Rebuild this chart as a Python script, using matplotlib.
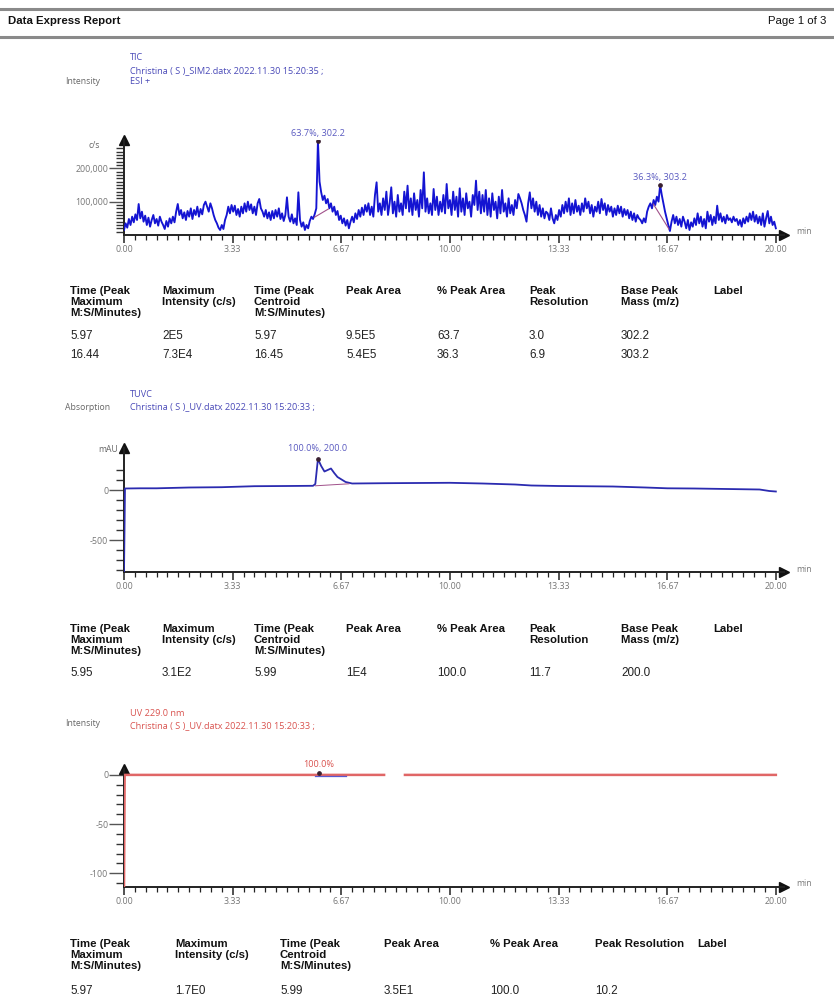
import numpy as np
import matplotlib
matplotlib.use('Agg')
import matplotlib.pyplot as plt
from matplotlib.lines import Line2D
from matplotlib.ticker import FixedLocator

W, H = 834, 998

# ---- TIC (SIM2, ESI+), k c/s every 0.05 min, 0.00 .. 20.00 ----
tic_step = 0.05
tic_kcps = [
    15, 35, 22, 48, 30, 55, 38, 62, 45, 93, 50, 70, 40, 58, 30, 52, 25, 45, 60, 35,
    48, 28, 55, 40, 30, 18, 42, 25, 50, 35, 55, 38, 70, 93, 60, 75, 50, 68, 45, 72,
    55, 80, 48, 75, 60, 85, 55, 78, 62, 90, 100, 85, 70, 95, 80, 60, 45, 35, 22, 15,
    30, 18, 45, 60, 85, 65, 90, 70, 88, 60, 78, 55, 85, 65, 95, 70, 100, 75, 92, 65,
    85, 60, 95, 108, 80, 70, 55, 75, 50, 68, 45, 72, 50, 75, 55, 80, 48, 65, 42, 60,
    113, 55, 40, 62, 35, 50, 30, 128, 45, 25, 38, 15, 30, 20, 42, 55, 48, 62, 80, 283,
    160, 128, 105, 118, 95, 108, 80, 95, 70, 85, 60, 72, 45, 58, 35, 50, 28, 45, 20, 40,
    55, 38, 65, 48, 75, 55, 82, 60, 90, 70, 95, 60, 85, 55, 120, 158, 70, 95, 60, 110,
    75, 130, 60, 95, 143, 65, 100, 55, 120, 70, 95, 60, 130, 80, 148, 70, 110, 60, 125, 75,
    105, 55, 135, 80, 188, 70, 110, 65, 95, 60, 138, 75, 115, 60, 100, 70, 120, 65, 153, 80,
    105, 60, 130, 75, 115, 55, 140, 70, 110, 60, 125, 80, 100, 55, 120, 90, 163, 75, 130, 65,
    120, 70, 135, 60, 110, 55, 125, 75, 100, 50, 115, 65, 135, 70, 95, 55, 110, 65, 90, 60,
    105, 80, 123, 110, 95, 75, 60, 40, 95, 128, 80, 110, 70, 100, 60, 90, 55, 80, 50, 70,
    65, 45, 80, 50, 35, 60, 45, 75, 55, 90, 65, 100, 70, 110, 60, 95, 65, 105, 70, 88,
    60, 95, 70, 110, 80, 100, 65, 90, 55, 85, 70, 100, 65, 108, 75, 95, 60, 90, 70, 85,
    55, 80, 60, 88, 65, 85, 55, 78, 60, 75, 50, 70, 45, 65, 40, 60, 50, 45, 35, 50,
    38, 70, 85, 95, 80, 105, 90, 115, 100, 150, 120, 95, 70, 50, 30, 12, 40, 60, 35, 55,
    30, 48, 25, 55, 40, 20, 45, 15, 38, 25, 50, 30, 65, 35, 55, 25, 48, 20, 70, 40,
    60, 30, 55, 35, 88, 45, 65, 40, 55, 35, 60, 45, 50, 38, 55, 42, 48, 30, 45, 25,
    50, 35, 55, 40, 65, 45, 70, 40, 60, 35, 55, 30, 65, 25, 50, 72, 35, 55, 30, 40,
    20,
]
tic_peak_t = [5.95, 16.45]
tic_peak_text = ['63.7%, 302.2', '36.3%, 303.2']
tic_base_t = [[5.84, 6.27], [16.24, 16.72]]
tic_base_k = [[53, 78], [93, 18]]

# ---- TUVC absorption, mAU ----
uv_t = [0.0, 0.03, 0.5, 1.0, 2.0, 3.0, 4.0, 5.0, 5.8, 5.87, 5.95, 6.05, 6.15, 6.25,
        6.35, 6.45, 6.55, 6.65, 6.8, 7.0, 8.0, 9.0, 10.0, 11.0, 12.0, 12.5, 13.33,
        14.0, 15.0, 16.0, 16.67, 17.5, 18.5, 19.5, 19.7, 19.8, 20.0]
uv_mau = [-830, 15, 17, 17, 25, 28, 38, 40, 42, 60, 310, 240, 185, 200, 215, 170,
          130, 110, 80, 65, 68, 70, 72, 65, 55, 45, 40, 38, 35, 25, 17, 15, 10, 5,
          -5, -10, -15]
uv_peak_t = 5.95
uv_peak_text = '100.0%, 200.0'
uv_base_t = [5.87, 6.9]
uv_base_mau = [42, 62]

# ---- UV 229.0 nm ----
uv229_t = [0.0, 0.02, 7.98, 8.3, 8.62, 20.0]
uv229_v = [-116, 0, 0, np.nan, 0, 0]
uv229_peak = (5.97, 1.7)
uv229_base_t = [5.85, 6.8]
uv229_base_v = [-0.8, -0.8]
uv229_peak_text = '100.0%'

# ---- peak tables ----
cols_ms = ['Time (Peak\nMaximum\nM:S/Minutes)', 'Maximum\nIntensity (c/s)',
           'Time (Peak\nCentroid\nM:S/Minutes)', 'Peak Area', '% Peak Area',
           'Peak\nResolution', 'Base Peak\nMass (m/z)', 'Label']
rows_tic = [['5.97', '2E5', '5.97', '9.5E5', '63.7', '3.0', '302.2'],
            ['16.44', '7.3E4', '16.45', '5.4E5', '36.3', '6.9', '303.2']]
rows_uv = [['5.95', '3.1E2', '5.99', '1E4', '100.0', '11.7', '200.0']]
cols_uv229 = ['Time (Peak\nMaximum\nM:S/Minutes)', 'Maximum\nIntensity (c/s)',
              'Time (Peak\nCentroid\nM:S/Minutes)', 'Peak Area', '% Peak Area',
              'Peak Resolution', 'Label']
rows_uv229 = [['5.97', '1.7E0', '5.99', '3.5E1', '100.0', '10.2']]

x_major = [0, 20 / 6, 40 / 6, 10, 80 / 6, 100 / 6, 20]
x_labels = ['0.00', '3.33', '6.67', '10.00', '13.33', '16.67', '20.00']

CH_FONT = ['Open Sans', 'DejaVu Sans']
TB_FONT = ['Liberation Sans', 'DejaVu Sans']
BLUE_TXT = '#4a4ab8'
RED_TXT = '#d9534f'
CH_SIZE = 6.6


def fx(x):
    return x / W


def fy(y):
    return 1 - y / H


def ftext(x, y, s, **kw):
    fig.text(fx(x), fy(y), s, **kw)


def add_panel(top, bottom, ylim, y_major, y_labels, y_minor):
    ax = fig.add_axes([fx(124), fy(bottom), (784 - 124) / W, (bottom - top) / H])
    ax.set_xlim(0, 20.25)
    ax.set_ylim(*ylim)
    ax.patch.set_alpha(0)
    for s in ['top', 'right']:
        ax.spines[s].set_visible(False)
    for s in ['left', 'bottom']:
        ax.spines[s].set_linewidth(1.4)
        ax.spines[s].set_color('#222222')
    ax.set_xticks(x_major)
    ax.set_xticklabels(x_labels, family=CH_FONT)
    ax.xaxis.set_minor_locator(FixedLocator([k / 3 for k in range(61) if k % 10]))
    ax.tick_params(axis='x', which='major', direction='out', length=6, width=1.1,
                   labelsize=6.4, labelcolor='#777777', pad=1.5, color='#222222')
    ax.tick_params(axis='x', which='minor', direction='out', length=3.5, width=0.9,
                   color='#222222')
    ax.set_yticks(y_major)
    ax.set_yticklabels(y_labels, family=CH_FONT)
    ax.yaxis.set_minor_locator(FixedLocator(y_minor))
    ax.tick_params(axis='y', which='major', direction='out', length=11, width=1.0,
                   labelsize=6.4, labelcolor='#777777', pad=0.3, color='#555555')
    ax.tick_params(axis='y', which='minor', direction='out', length=6, width=1.0,
                   color='#333333')
    ax.plot(0, 1, marker='^', color='#111111', ms=7, transform=ax.transAxes,
            clip_on=False)
    ax.plot(1, 0, marker='>', color='#111111', ms=7, transform=ax.transAxes,
            clip_on=False)
    return ax


def add_table(y_head, y_rows, xs, headers, rows):
    for x, h in zip(xs, headers):
        ftext(x, y_head, h, ha='left', va='top', fontsize=8.2, weight='bold',
              family=TB_FONT, linespacing=1.12, color='#111111')
    for y, row in zip(y_rows, rows):
        for x, v in zip(xs, row):
            ftext(x, y, v, ha='left', va='center', fontsize=8.4, family=TB_FONT,
                  color='#222222')


fig = plt.figure(figsize=(W / 100, H / 100), dpi=100)
fig.patch.set_facecolor('white')

# page header
for y in (9, 37):
    fig.add_artist(Line2D([0, 1], [fy(y), fy(y)], color='#8a8a8a', lw=2.2))
ftext(8, 21, 'Data Express Report', ha='left', va='center', fontsize=8.2,
      weight='bold', family=TB_FONT, color='#111111')
ftext(826, 21, 'Page 1 of 3', ha='right', va='center', fontsize=8.2, family=TB_FONT,
      color='#111111')

# ---------- TIC ----------
ftext(130, 58, 'TIC', fontsize=CH_SIZE, color=BLUE_TXT, family=CH_FONT, va='center')
ftext(130, 71, 'Christina ( S )_SIM2.datx 2022.11.30 15:20:35 ;', fontsize=CH_SIZE,
      color=BLUE_TXT, family=CH_FONT, va='center')
ftext(130, 82, 'ESI +', fontsize=CH_SIZE, color=BLUE_TXT, family=CH_FONT, va='center')
ftext(65, 82, 'Intensity', fontsize=6.2, color='#666666', family=CH_FONT, va='center')

ax1 = add_panel(140, 235, (0, 285000), [100000, 200000], ['100,000', '200,000'],
                [v * 10000 for v in range(0, 27) if v % 10])
tic_t = np.arange(len(tic_kcps)) * tic_step
tic = np.array(tic_kcps) * 1000.0
ax1.plot(tic_t, tic, color='#1414d2', lw=1.35, zorder=3)
for bt, bk in zip(tic_base_t, tic_base_k):
    ax1.plot(bt, np.array(bk) * 1000.0, color='#a0508a', lw=0.8, zorder=4)
for pt, txt in zip(tic_peak_t, tic_peak_text):
    i = int(round(pt / tic_step))
    ax1.plot(tic_t[i], tic[i], 'o', color='#3a2030', ms=2.4, zorder=5)
    ax1.annotate(txt, (tic_t[i], tic[i]), xytext=(0, 2), textcoords='offset points',
                 ha='center', va='bottom', fontsize=CH_SIZE, color='#5a5ac0',
                 family=CH_FONT, annotation_clip=False)
ftext(100, 146, 'c/s', ha='right', va='center', fontsize=6.2, color='#666666',
      family=CH_FONT)
ftext(796, 232, 'min', ha='left', va='center', fontsize=6.2, color='#777777',
      family=CH_FONT)

add_table(286, [336, 355], [70, 162, 254, 346, 437, 529, 621, 713], cols_ms, rows_tic)

# ---------- TUVC ----------
ftext(130, 394, 'TUVC', fontsize=CH_SIZE, color=BLUE_TXT, family=CH_FONT, va='center')
ftext(130, 407, 'Christina ( S )_UV.datx 2022.11.30 15:20:33 ;', fontsize=CH_SIZE,
      color=BLUE_TXT, family=CH_FONT, va='center')
ftext(65, 407, 'Absorption', fontsize=6.2, color='#666666', family=CH_FONT,
      va='center')

ax2 = add_panel(448, 572, (-820, 420), [-500, 0], ['-500', '0'],
                [v * 100 for v in range(-8, 3) if v % 5])
ax2.plot(uv_t, uv_mau, color='#2b2bb0', lw=1.3, zorder=3)
ax2.plot(uv_base_t, uv_base_mau, color='#a0508a', lw=0.7, zorder=4)
pk = uv_mau[uv_t.index(uv_peak_t)]
ax2.plot(uv_peak_t, pk, 'o', color='#3a2030', ms=2.4, zorder=5)
ax2.annotate(uv_peak_text, (uv_peak_t, pk), xytext=(0, 4), textcoords='offset points',
             ha='center', va='bottom', fontsize=CH_SIZE, color='#5a5ac0',
             family=CH_FONT, annotation_clip=False)
ftext(118, 450, 'mAU', ha='right', va='center', fontsize=6.2, color='#666666',
      family=CH_FONT)
ftext(796, 569, 'min', ha='left', va='center', fontsize=6.2, color='#777777',
      family=CH_FONT)

add_table(624, [673], [70, 162, 254, 346, 437, 529, 621, 713], cols_ms, rows_uv)

# ---------- UV 229.0 nm ----------
ftext(130, 713, 'UV 229.0 nm', fontsize=CH_SIZE, color=RED_TXT, family=CH_FONT,
      va='center')
ftext(130, 726, 'Christina ( S )_UV.datx 2022.11.30 15:20:33 ;', fontsize=CH_SIZE,
      color=RED_TXT, family=CH_FONT, va='center')
ftext(65, 724, 'Intensity', fontsize=6.2, color='#666666', family=CH_FONT,
      va='center')

ax3 = add_panel(769, 887, (-114, 6), [-100, -50, 0], ['-100', '-50', '0'],
                [v * 10 for v in range(-11, 1) if v % 5])
ax3.plot(uv229_t, uv229_v, color='#e06666', lw=1.8, zorder=3)
ax3.plot(uv229_base_t, uv229_base_v, color='#5a5ad0', lw=0.9, zorder=4)
ax3.plot(*uv229_peak, 'o', color='#3a2030', ms=2.4, zorder=5)
ax3.annotate(uv229_peak_text, uv229_peak, xytext=(0, 3), textcoords='offset points',
             ha='center', va='bottom', fontsize=CH_SIZE, color=RED_TXT,
             family=CH_FONT, annotation_clip=False)
ftext(796, 884, 'min', ha='left', va='center', fontsize=6.2, color='#777777',
      family=CH_FONT)

add_table(939, [991], [70, 175, 280, 384, 490, 595, 697], cols_uv229, rows_uv229)

fig.savefig('out.png', dpi=100, facecolor='white')
